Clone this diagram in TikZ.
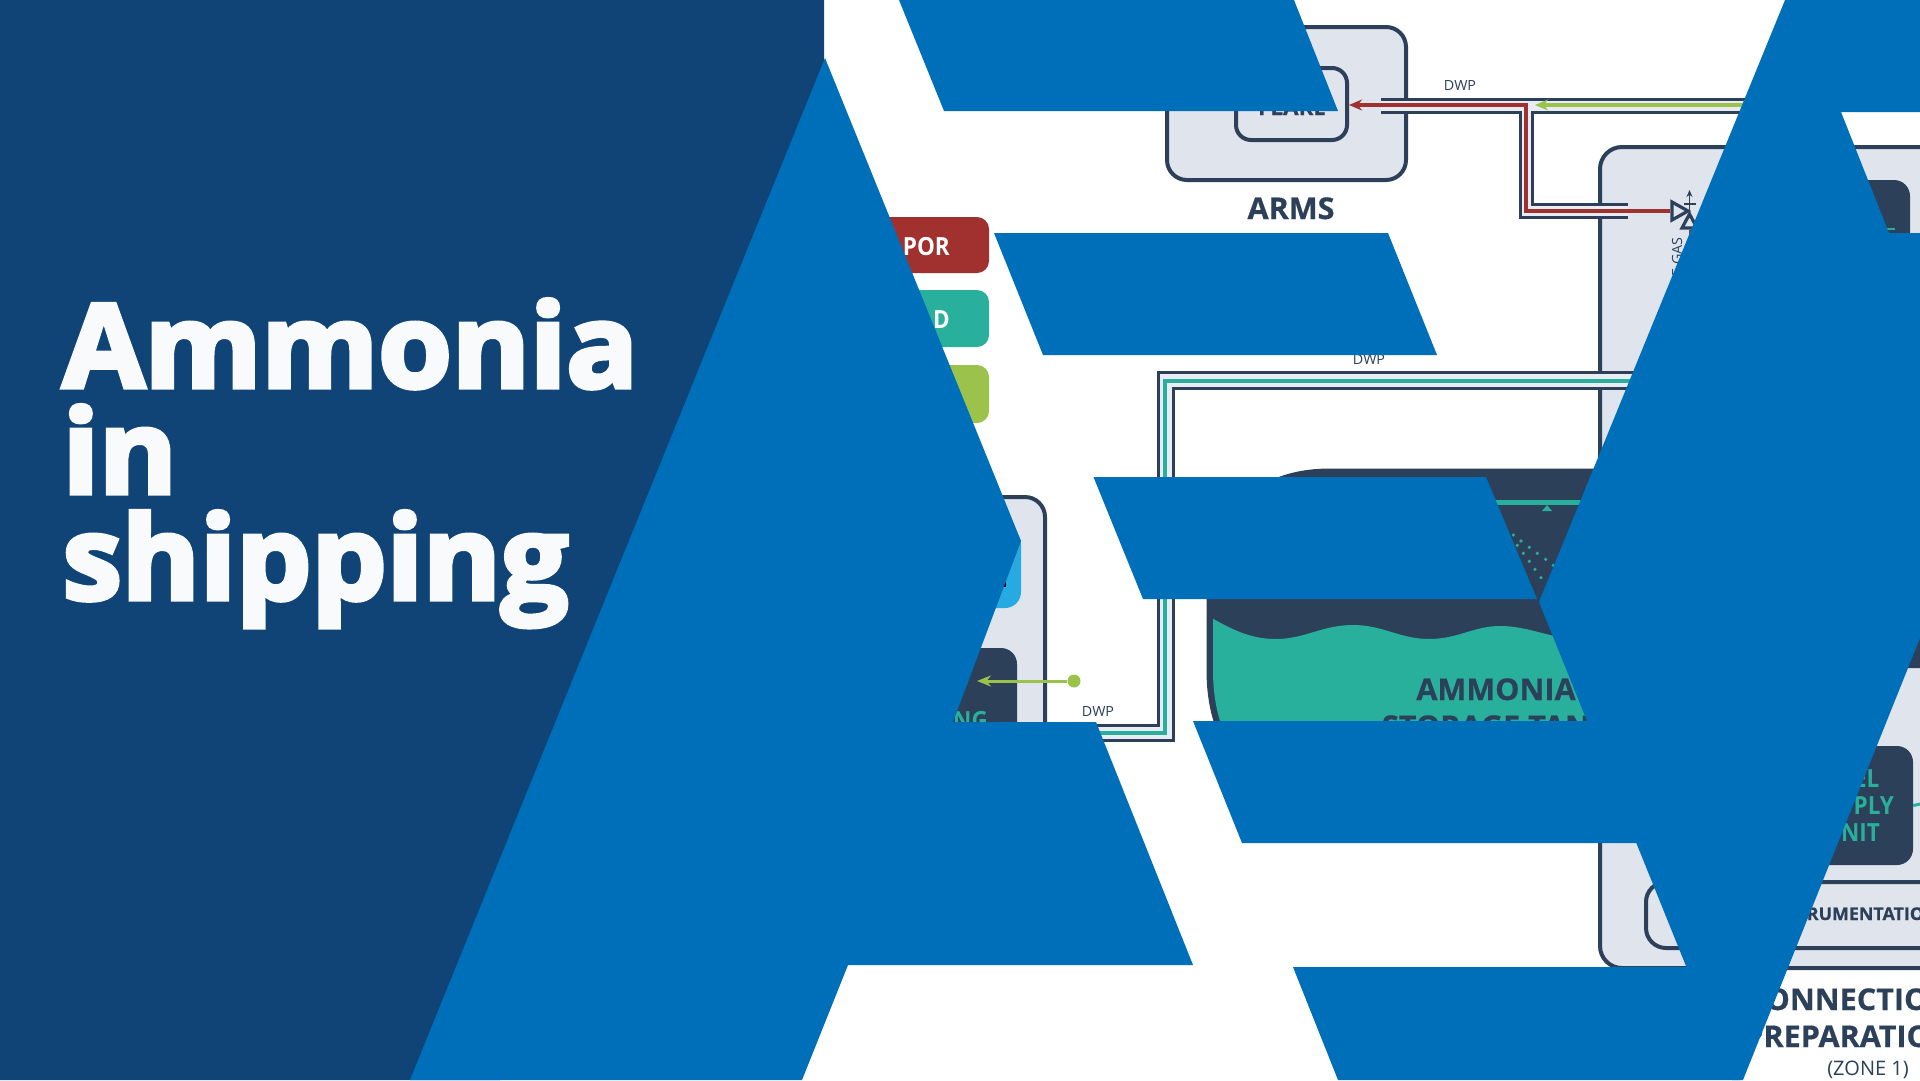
\documentclass[tikz,border=0pt]{standalone}
\usepackage{fontspec}
\setmainfont{Open Sans}
\newfontfamily\titlefont[FakeStretch=1.025,BoldFeatures={FakeBold=4}]{Open Sans}
\newfontfamily\zonefont[FakeStretch=1.02,BoldFeatures={FakeBold=0.6}]{Open Sans}
\newfontfamily\tagfont[FakeStretch=0.9]{Open Sans}
\usetikzlibrary{arrows.meta,positioning}
\definecolor{navyback}{HTML}{104476}
\definecolor{bandblue}{HTML}{006FBA}
\definecolor{slate}{HTML}{2C405A}
\definecolor{panelgray}{HTML}{E0E4ED}
\definecolor{pipegray}{HTML}{E9ECF2}
\definecolor{ammoniateal}{HTML}{29B09D}
\definecolor{vaporred}{HTML}{A0312F}
\definecolor{gasgreen}{HTML}{9BC24A}
\definecolor{coolcyan}{HTML}{27AAE1}
\definecolor{titlewhite}{HTML}{F8FAFC}
\begin{document}
\begin{tikzpicture}[x=1pt,y=-1pt]
	
	\tikzset{panel box/.style={
			draw=slate, line width=4pt, fill=panelgray,
			rectangle, rounded corners=#1, inner sep=0pt
		},
		panel box/.default=20pt,
		solid box/.style={
			fill=#1, rectangle, rounded corners=16pt, inner sep=0pt
		},
		pipe wall/.style={draw=slate, line width=3pt},
		pipe flow/.style={draw=#1, line width=3.5pt},
		zone label/.style={
			font=\zonefont\bfseries\fontsize{30}{37}\selectfont,
			text=slate, align=center, inner sep=0pt
		},
		unit label/.style={
			font=\tagfont\bfseries\fontsize{25}{27}\selectfont,
			align=center, inner sep=0pt
		},
		dwp label/.style={
			font=\zonefont\fontsize{14}{14}\selectfont,
			text=slate, inner sep=0pt
		}
	}
	
	\useasboundingbox (0,0) rectangle (1920,1080);
	\clip (0,0) rectangle (1920,1080);
	\fill[white] (0,0) rectangle (1920,1080);
	
	% arms unit
	\node[panel box, minimum width=239pt, minimum height=153pt] (arms) at (1286.5,103.5) {};
	\node[panel box=15pt, minimum width=111pt, minimum height=72pt] (flare) at (1291.5,104) {};
	\node[font=\zonefont\bfseries\fontsize{22}{22}\selectfont, text=slate, inner sep=0pt, anchor=base] (flaretext) at (1292,115) {FLARE};
	\node[zone label, anchor=base] (armstext) at (1291,219) {ARMS};
	
	% connection box
	\node[panel box=22pt, minimum width=360pt, minimum height=821pt] (connection) at (1780,557.5) {};
	\node[solid box=slate, minimum width=160pt, minimum height=300pt] (topunit) at (1830,330) {};
	\draw[ammoniateal, line width=2pt] (1886,229) -- (1895,229);
	\node[solid box=slate, minimum width=200pt, minimum height=120pt] (lowunit) at (1860,608) {};
	\node[solid box=slate, minimum width=122pt, minimum height=119pt] (fuelunit) at (1852,805.5) {};
	\node[unit label, text=ammoniateal, anchor=center] (fueltext) at (1852,806) {FUEL\\SUPPLY\\UNIT};
	\draw[ammoniateal, line width=3pt] (fuelunit.east) -- (1920,804);
	\node[panel box, minimum width=320pt, minimum height=66pt] (instruments) at (1806,915) {};
	\node[font=\zonefont\bfseries\fontsize{17.5}{18}\selectfont, text=slate, inner sep=0pt, anchor=base west] (instrumentstext) at (1766,920) {INSTRUMENTATION};
	\node[zone label, anchor=base] (zonetext) at (1850,1047) {CONNECTION\\PREPARATION};
	\node[font=\fontsize{20}{20}\selectfont, text=slate, inner sep=0pt, anchor=base] (zonenote) at (1868,1075) {(ZONE 1)};
	
	% pipe from arms to connection box
	\fill[pipegray] (1381,99) -- (1800,99) -- (1800,112) -- (1532,112) -- (1532,204) -- (1628,204)
		-- (1628,217) -- (1520,217) -- (1520,112) -- (1381,112) -- cycle;
	\draw[pipe wall] (1381,99) -- (1800,99);
	\draw[pipe wall] (1381,112) -- (1520,112) -- (1520,217) -- (1628,217);
	\draw[pipe wall] (1800,112) -- (1532,112) -- (1532,204) -- (1628,204);
	\draw[pipe flow=vaporred, -{Stealth[length=13pt,width=11pt]}] (1670,211) -- (1526,211) -- (1526,105) -- (flare.east |- 0,105);
	\draw[pipe flow=gasgreen, -{Stealth[length=13pt,width=11pt]}] (1800,105) -- (1535,105);
	
	% valve
	\draw[slate, line width=3.2pt] (1672,202) -- (1672,220) -- (1688,211) -- cycle;
	\draw[slate, line width=3.2pt] (1682,228) -- (1697,228) -- (1689.5,214) -- cycle;
	\draw[slate, line width=1.8pt, -{Stealth[length=7pt,width=6pt]}] (1689.5,212) -- (1689.5,190);
	\draw[slate, line width=1.8pt] (1684,204) -- (1696,204);
	\draw[vaporred, line width=3pt] (1690,230) -- (1690,300);
	\node[font=\zonefont\fontsize{14}{14}\selectfont, text=slate, inner sep=0pt, rotate=90, anchor=east] (gastext) at (1677,237) {E GAS};
	
	% pipe from storage tank to connection box
	\fill[pipegray] (1640,372) -- (1158,372) -- (1158,725) -- (1090,725) -- (1090,740) -- (1173,740)
		-- (1173,388) -- (1640,388) -- cycle;
	\draw[pipe wall] (1640,372) -- (1158,372) -- (1158,725) -- (1090,725);
	\draw[pipe wall] (1640,388) -- (1173,388) -- (1173,740) -- (1090,740);
	\draw[pipe flow=ammoniateal] (1640,381) -- (1165,381) -- (1165,733) -- (1090,733);
	
	\node[dwp label] (dwptop) at (1460,85) {DWP};
	\node[dwp label] (dwpmid) at (1369,359) {DWP};
	\node[dwp label] (dwplow) at (1098,711) {DWP};
	
	% storage tank
	\path[fill=slate, draw=slate, line width=1pt] (1207,600) .. controls (1207,520) and (1250,469) .. (1330,469)
		-- (1680,469) -- (1680,800) -- (1330,800) .. controls (1250,800) and (1207,750) .. (1207,670) -- cycle;
	\begin{scope}
		\clip (1213,600) .. controls (1213,525) and (1255,475) .. (1330,475)
			-- (1674,475) -- (1674,794) -- (1330,794) .. controls (1255,794) and (1213,750) .. (1213,670) -- cycle;
		\fill[ammoniateal] (1205,614) .. controls (1235,632) and (1253,639) .. (1276,639)
			.. controls (1305,639) and (1322,625) .. (1353,625)
			.. controls (1383,625) and (1400,639) .. (1429,639)
			.. controls (1458,639) and (1474,626) .. (1500,626)
			.. controls (1530,626) and (1550,639) .. (1580,639)
			-- (1680,639) -- (1680,800) -- (1205,800) -- cycle;
	\end{scope}
	\draw[ammoniateal, line width=5pt] (1300,502) -- (1600,502);
	\fill[ammoniateal] (1542,511) -- (1552,511) -- (1547,505) -- cycle;
	\foreach \dotx/\doty in {100/195,123/213,112/226,148/232,130/250,172/250,197/268,148/274,220/286,165/298,183/323}
		\fill[ammoniateal] ({1480+\dotx/3},{470+\doty/3}) circle (1.8pt);
	\node[zone label, anchor=base] (tanktext) at (1496,700) {AMMONIA};
	\node[zone label, anchor=base] (tanktextb) at (1496,737) {STORAGE TANK};
	
	% legend
	\node[solid box=vaporred, rounded corners=12pt, minimum width=189pt, minimum height=56pt] (vaporpill) at (894.5,245) {};
	\node[solid box=ammoniateal, rounded corners=12pt, minimum width=189pt, minimum height=57pt] (liquidpill) at (894.5,318.5) {};
	\node[solid box=gasgreen, rounded corners=12pt, minimum width=189pt, minimum height=58pt] (gaspill) at (894.5,394) {};
	\node[unit label, text=white, anchor=base east] (vaportext) at (950,255) {POR};
	\node[unit label, text=white, anchor=base east] (liquidtext) at (950,328) {D};
	
	% bunkering unit
	\node[panel box, minimum width=165pt, minimum height=303pt] (bunker) at (962.5,648.5) {};
	\node[solid box=coolcyan, minimum width=121pt, minimum height=80pt] (coolbox) at (960.5,568) {};
	\draw[black, line width=3pt] (1004.5,575) -- (1004.5,587);
	\node[solid box=slate, minimum width=137pt, minimum height=150pt] (bunkerunit) at (948.5,723) {};
	\node[unit label, text=ammoniateal, anchor=base east] (bunkertext) at (988,729) {NG};
	\node[circle, fill=gasgreen, minimum size=13pt, inner sep=0pt] (greendot) at (1074,681) {};
	\draw[gasgreen, line width=3pt, -{Stealth[length=14pt,width=11pt]}] (greendot) -- (977,681);
	
	% background and bands
	\fill[navyback] (0,0) -- (824,0) -- (824,120) -- (500,1080) -- (0,1080) -- cycle;
	\fill[bandblue] (825,58) -- (1021,541) -- (953,722) -- (1096,722) -- (1193,965) -- (848,965) -- (802,1080) -- (410,1080) -- cycle;
	\fill[bandblue] (899,0) -- (1294,0) -- (1338,111) -- (944,111) -- cycle;
	\fill[bandblue] (994,233) -- (1388,233) -- (1437,355) -- (1043,355) -- cycle;
	\fill[bandblue] (1093.5,477) -- (1486,477) -- (1537,599) -- (1143,599) -- cycle;
	\fill[bandblue] (1193,721) -- (1600,721) -- (1640,843) -- (1242,843) -- cycle;
	\fill[bandblue] (1293,967) -- (1692,967) -- (1740,1080) -- (1338,1080) -- cycle;
	\fill[bandblue] (1785,0) -- (1920,0) -- (1920,112) -- (1841,112) -- (1889,233) -- (1920,233) -- (1920,638)
		-- (1743,1080) -- (1732,1080) -- (1539,602) -- cycle;
	
	% title
	\node[font=\titlefont\bfseries\fontsize{116}{106}\selectfont, text=titlewhite, align=left, inner sep=0pt, anchor=north west] (title) at (62.5,299) {Ammonia\\in\\shipping};
	
\end{tikzpicture}
\end{document}
